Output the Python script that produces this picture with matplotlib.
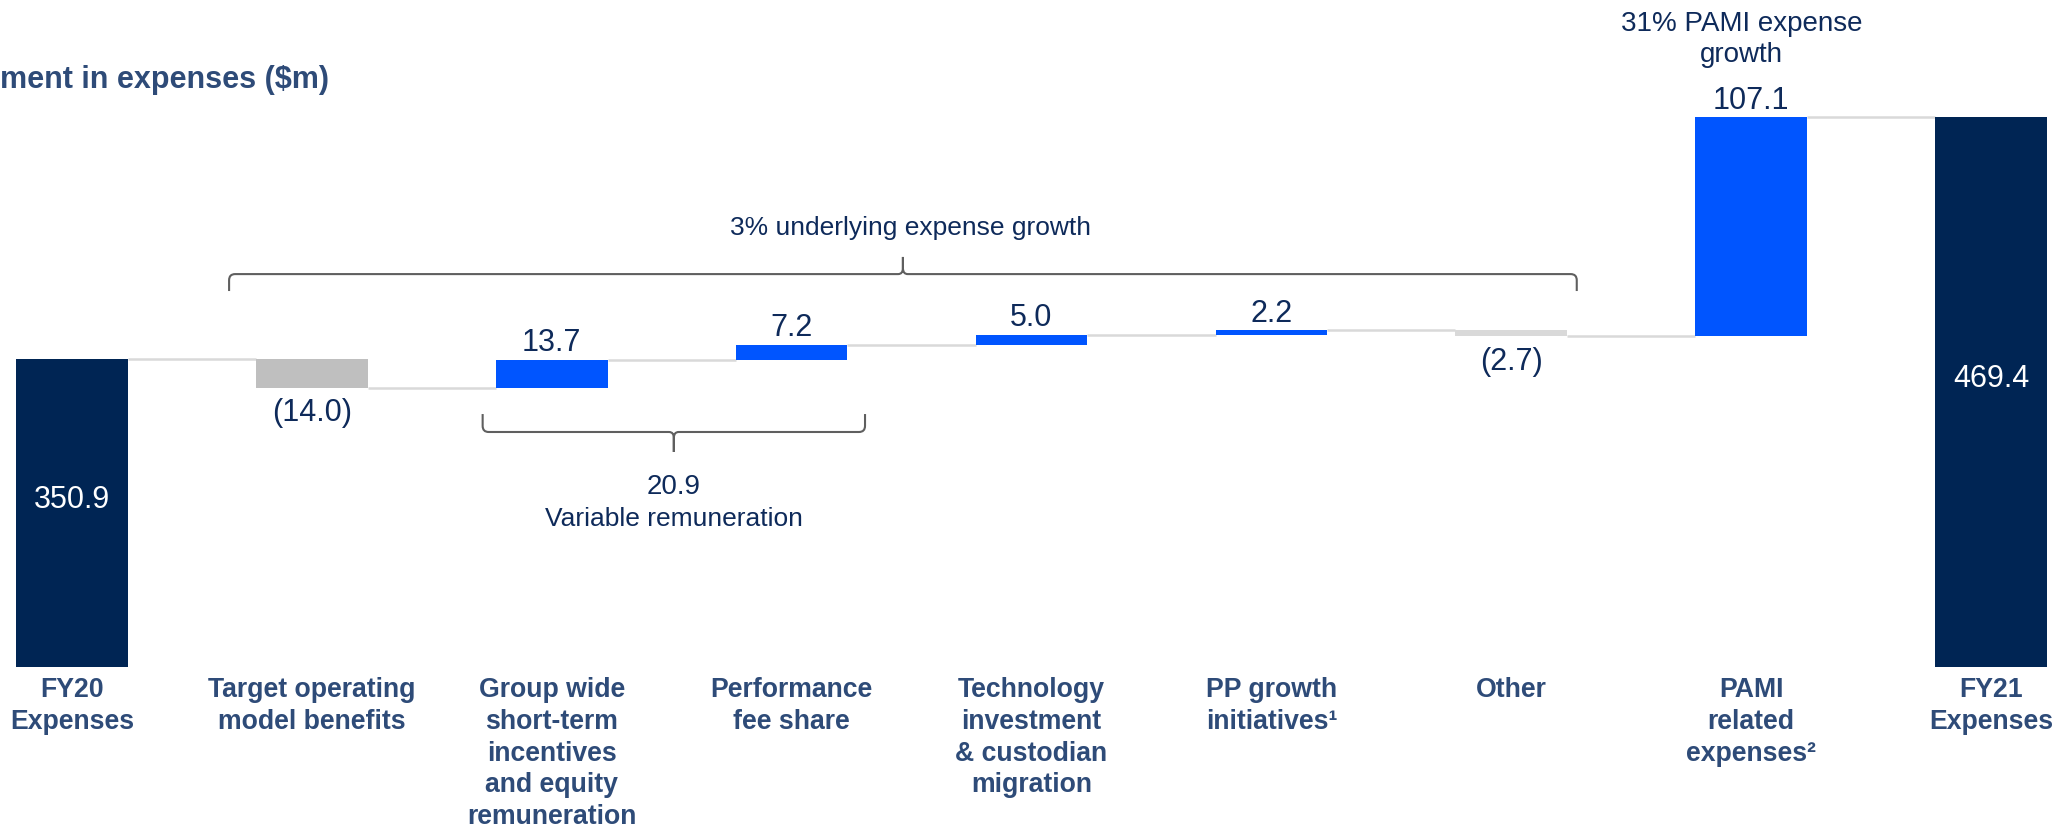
import matplotlib
matplotlib.use("Agg")
import matplotlib.pyplot as plt
from matplotlib import font_manager
from matplotlib.path import Path
from matplotlib.patches import PathPatch
import matplotlib.transforms as mtransforms

# ---------------- data ----------------
categories = ["FY20\nExpenses",
              "Target operating\nmodel benefits",
              "Group wide\nshort-term\nincentives\nand equity\nremuneration",
              "Performance\nfee share",
              "Technology\ninvestment\n& custodian\nmigration",
              "PP growth\ninitiatives\u00b9",
              "Other",
              "PAMI\nrelated\nexpenses\u00b2",
              "FY21\nExpenses"]
start_total = 350.9
changes = [-14.0, 13.7, 7.2, 5.0, 2.2, -2.7, 107.1]
end_total = 469.4
title_text = "ment in expenses ($m)"
underlying_text = "3% underlying expense growth"
variable_text = "Variable remuneration"
pami_text = "31% PAMI expense\ngrowth"

# ---------------- styles ----------------
NAVY = "#002554"
BLUE = "#0055FF"
GREY = "#BFBFBF"
LIGHT = "#D9D9D9"
VAL_COLOR = "#0E2A5A"
CAT_COLOR = "#2E4B78"
BRACKET = "#5F5F5F"
bar_colors = [NAVY, GREY, BLUE, BLUE, BLUE, BLUE, LIGHT, BLUE, NAVY]

available = {f.name for f in font_manager.fontManager.ttflist}
REG = "Liberation Sans" if "Liberation Sans" in available else "DejaVu Sans"
NARROW = "Liberation Sans Narrow" if "Liberation Sans Narrow" in available else REG
plt.rcParams["font.family"] = [REG, "DejaVu Sans"]

W, H, DPI = 2063, 828, 100
fig = plt.figure(figsize=(W / DPI, H / DPI), dpi=DPI)
AX_BOTTOM_PX = 160
ax = fig.add_axes([0, AX_BOTTOM_PX / H, 1, 1 - AX_BOTTOM_PX / H])
ymin = 200
px_per_unit = 2.04
ymax = ymin + (H - AX_BOTTOM_PX) / px_per_unit
ax.set_xlim(-0.3, 8.3)
ax.set_ylim(ymin, ymax)
ax.axis("off")

# ---------------- waterfall ----------------
n = len(categories)
xs = list(range(n))
bottoms, heights = [], []
running = start_total
bottoms.append(0)
heights.append(start_total)
levels = [start_total]
for c in changes:
    new = running + c
    bottoms.append(min(running, new))
    heights.append(abs(c))
    running = new
    levels.append(running)
bottoms.append(0)
heights.append(end_total)

width = 0.465
ax.bar(xs, heights, bottom=bottoms, width=width, color=bar_colors, zorder=3)

# connectors
for i in range(n - 1):
    lvl = levels[i] if i < len(levels) else end_total
    ax.plot([xs[i] + width / 2, xs[i + 1] - width / 2], [lvl, lvl],
            color=LIGHT, lw=1.8, zorder=2, solid_capstyle="butt")

# value labels
val_fs = 22
for i, c in enumerate(changes, start=1):
    top = bottoms[i] + heights[i]
    if c >= 0:
        ax.annotate(f"{c:.1f}", (xs[i], top), xytext=(0, 2), textcoords="offset points",
                    ha="center", va="bottom", fontsize=val_fs, color=VAL_COLOR)
    else:
        ax.annotate(f"({abs(c):.1f})", (xs[i], bottoms[i]), xytext=(0, -7),
                    textcoords="offset points", ha="center", va="top",
                    fontsize=val_fs, color=VAL_COLOR)
for i, tot in ((0, start_total), (n - 1, end_total)):
    ax.text(xs[i], (ymin + tot) / 2 + 7, f"{tot:.1f}", ha="center", va="center",
            fontsize=val_fs, color="white", zorder=4)

# category labels
blend = mtransforms.blended_transform_factory(ax.transData, ax.transAxes)
for x, lab in zip(xs, categories):
    ax.text(x, -0.014, lab, transform=blend, ha="center", va="top",
            fontsize=19.2, fontweight="bold", family=[NARROW, REG],
            color=CAT_COLOR, linespacing=1.28, clip_on=False)


# brackets
def brace(x0, x1, yh, yend, ytip, rx=0.025, ry=3.0):
    xc = (x0 + x1) / 2
    sgn_end = 1 if yend > yh else -1
    sgn_tip = 1 if ytip > yh else -1
    verts = [(x0, yend), (x0, yh + sgn_end * ry), (x0, yh), (x0 + rx, yh),
             (xc - rx * 0.8, yh), (xc, yh), (xc, yh + sgn_tip * ry),
             (xc, ytip), (xc, yh + sgn_tip * ry), (xc, yh), (xc + rx * 0.8, yh),
             (x1 - rx, yh), (x1, yh), (x1, yh + sgn_end * ry), (x1, yend)]
    codes = [Path.MOVETO, Path.LINETO, Path.CURVE3, Path.CURVE3,
             Path.LINETO, Path.CURVE3, Path.CURVE3,
             Path.LINETO, Path.LINETO, Path.CURVE3, Path.CURVE3,
             Path.LINETO, Path.CURVE3, Path.CURVE3, Path.LINETO]
    ax.add_patch(PathPatch(Path(verts, codes), fill=False, edgecolor=BRACKET,
                           lw=1.5, zorder=5, capstyle="butt", joinstyle="miter"))
    return xc


xc1 = brace(0.655, 6.273, 392.6, 384.3, 401.0)
ax.text(xc1 + 0.03, 415.7, underlying_text, ha="center", va="center",
        fontsize=19, color=VAL_COLOR)

xc2 = brace(1.712, 3.306, 315.2, 324.0, 305.4)
var_total = changes[1] + changes[2]
ax.text(xc2, 288.7, f"{var_total:.1f}", ha="center", va="center",
        fontsize=20, color=VAL_COLOR)
ax.text(xc2, 272.8, variable_text, ha="center", va="center",
        fontsize=19, color=VAL_COLOR)

ax.text(xs[7] - 0.04, 508.0, pami_text, ha="center", va="center",
        fontsize=20, color=VAL_COLOR, linespacing=1.25)

fig.text(0.0, 1 - 80 / H, title_text, ha="left", va="center", fontsize=22,
         fontweight="bold", color="#2E4B78")

fig.savefig("out.png", dpi=DPI)
